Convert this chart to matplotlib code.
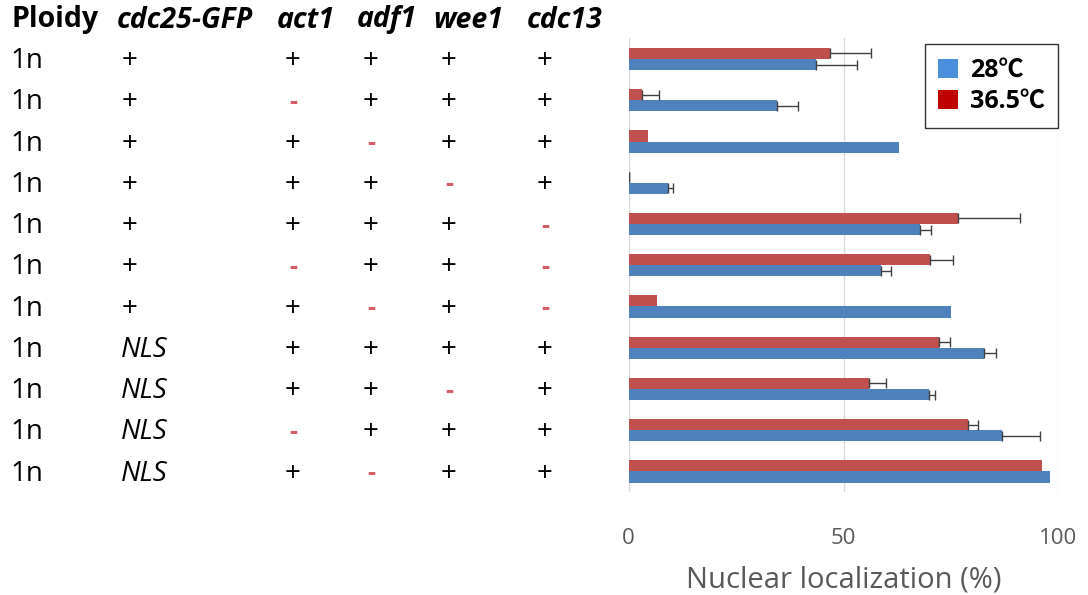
import matplotlib
matplotlib.use("Agg")
import matplotlib.pyplot as plt
import numpy as np
from matplotlib.transforms import blended_transform_factory
from matplotlib.patches import Patch

# ---- data ----
ploidy = ["1n"] * 11
cdc25 = ["+", "+", "+", "+", "+", "+", "+", "NLS", "NLS", "NLS", "NLS"]
act1 = ["+", "-", "+", "+", "+", "-", "+", "+", "+", "-", "+"]
adf1 = ["+", "+", "-", "+", "+", "+", "-", "+", "+", "+", "-"]
wee1 = ["+", "+", "+", "-", "+", "+", "+", "+", "-", "+", "+"]
cdc13 = ["+", "+", "+", "+", "-", "-", "-", "+", "+", "+", "+"]

val_28 = [43.7, 34.5, 62.9, 9.1, 67.7, 58.8, 75.0, 82.8, 69.8, 86.9, 98.0]
err_28 = [9.4, 5.0, 0, 1.1, 2.7, 2.3, 0, 2.6, 1.6, 8.9, 0]
val_365 = [46.8, 3.2, 4.6, 0.0, 76.7, 70.2, 6.7, 72.2, 56.0, 79.0, 96.2]
err_365 = [9.5, 3.9, 0, 0.1, 14.3, 5.3, 0, 2.6, 3.8, 2.3, 0]

headers = ["Ploidy", "cdc25-GFP", "act1", "adf1", "wee1", "cdc13"]
legend_labels = ["28\u2103", "36.5\u2103"]
xticks = [0, 50, 100]
xlabel = "Nuclear localization (%)"

# ---- figure ----
W, H = 1088, 595
fig = plt.figure(figsize=(W / 100, H / 100), dpi=100)
ax = fig.add_axes([628.7 / W, 1 - 492.1 / H, (1058.3 - 628.7) / W, (492.1 - 38.4) / H])

n = len(val_28)
y = np.arange(n)
bh = 0.27
blue = "#4F81BD"
red = "#C0504D"

ax.barh(y - bh / 2, val_365, height=bh, color=red, zorder=3)
ax.barh(y + bh / 2, val_28, height=bh, color=blue, zorder=3)

ecfg = dict(fmt="none", ecolor="#404040", elinewidth=1.0, capsize=3.5, capthick=1.0, zorder=4)
for vals, errs, off in [(val_365, err_365, -bh / 2), (val_28, err_28, bh / 2)]:
    v = np.array(vals)
    e = np.array(errs)
    m = e > 0
    ax.errorbar(v[m], y[m] + off, xerr=[np.zeros(m.sum()), e[m]], **ecfg)

ax.set_xlim(0, 100)
ax.set_ylim(n - 0.5, -0.5)
ax.set_yticks([])
for s in ax.spines.values():
    s.set_visible(False)
for xv in xticks:
    ax.axvline(xv, color="#d9d9d9", lw=1.0, zorder=1)

fam = ["Open Sans", "DejaVu Sans"]
ax.set_xticks(xticks)
ax.set_xticklabels([str(v) for v in xticks])
ax.tick_params(axis="x", length=0, pad=26, labelsize=16, labelcolor="#595959")
for lab in ax.get_xticklabels():
    lab.set_family(fam)
ax.set_xlabel(xlabel, fontsize=21, color="#595959", labelpad=12, family=fam)

# legend
handles = [Patch(facecolor="#4A8FDB", edgecolor="none"),
           Patch(facecolor="#C00000", edgecolor="none")]
leg = ax.legend(handles, legend_labels, loc="upper right",
                bbox_to_anchor=(1.0, 1 - (44 - 38.4) / (492.1 - 38.4)),
                borderaxespad=0,
                frameon=True, fancybox=False, edgecolor="black",
                handlelength=0.8, handleheight=0.8, handletextpad=0.45,
                borderpad=0.55, labelspacing=0.25,
                prop={"family": ["Open Sans", "Noto Sans CJK SC"], "weight": "bold", "size": 18})
leg.get_frame().set_linewidth(1.0)
leg.set_zorder(5)

# ---- table ----
tr = blended_transform_factory(fig.transFigure, ax.transData)
hy = 1 - 20 / H
header_x = [12, 117, 277, 357, 433, 527]
for i, (hx, h) in enumerate(zip(header_x, headers)):
    fig.text(hx / W, hy, h, ha="left", va="center", fontsize=20.5, weight="bold",
             style="normal" if i == 0 else "italic", family=fam)

col_x = {"cdc25": 130, "act1": 293, "adf1": 371, "wee1": 449, "cdc13": 545}
cols = [("cdc25", cdc25), ("act1", act1), ("adf1", adf1), ("wee1", wee1), ("cdc13", cdc13)]
for i in range(n):
    ax.text(10 / W, i + 0.05, ploidy[i], transform=tr, ha="left", va="center",
            fontsize=20, family=fam)
    for key, arr in cols:
        s = arr[i]
        if s == "NLS":
            ax.text(121 / W, i + 0.05, s, transform=tr, ha="left", va="center",
                    fontsize=20, style="italic", family=fam)
        elif s == "+":
            ax.text(col_x[key] / W, i + 0.05, "+", transform=tr, ha="center", va="center",
                    fontsize=20, family=fam, color="black")
        else:
            ax.text(col_x[key] / W, i + 0.05, "-", transform=tr, ha="center", va="center",
                    fontsize=18, weight="bold", family=fam, color="#D85C66")

fig.savefig("out.png", dpi=100)
